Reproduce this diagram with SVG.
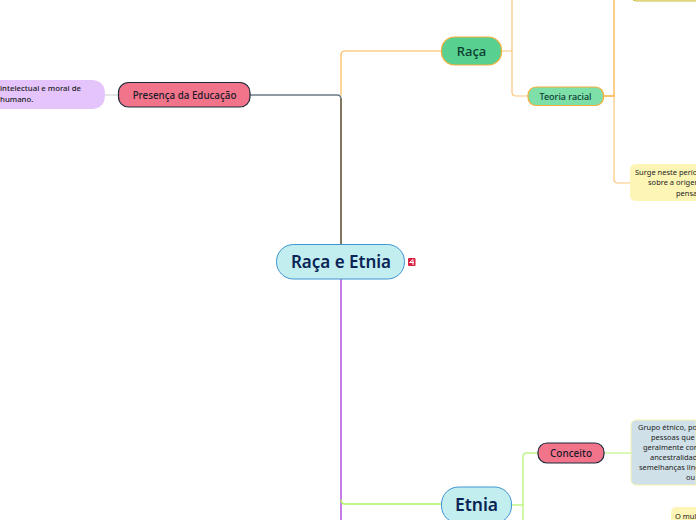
<svg xmlns="http://www.w3.org/2000/svg" width="696" height="520" viewBox="0 0 696 520">
<style>
text{font-family:"Noto Sans","Open Sans",sans-serif;text-anchor:middle}
.c{fill:none;stroke-linecap:round}
.t8{font-size:7.500px;fill:#222}
.s{text-anchor:start}
</style>
<rect width="696" height="520" fill="#fff"/>
<g id="connectors">
<path class="c" d="M105 95H118" stroke="#c9d0d0" stroke-width="1.200"/>
<path class="c" d="M441 51H345Q341 51 341 55V95" stroke="#fbb84f" stroke-width="1.200"/>
<path class="c" d="M250 95H337Q341 95 341 99V244" stroke="#6b7a85" stroke-width="1.500"/>
<path class="c" d="M341 99V244" stroke="#7d6a4a" stroke-width="1.500"/>
<path class="c" d="M341 279V520" stroke="#b04fdc" stroke-width="1.500"/>
<path class="c" d="M341 500Q341 504 345 504H441" stroke="#aef562" stroke-width="1.500"/>
<path class="c" d="M502 51H512" stroke="#fcc77a" stroke-width="1.200"/>
<path class="c" d="M512 0V92Q512 96 516 96H528" stroke="#fcc77a" stroke-width="1.200"/>
<path class="c" d="M604 96H614" stroke="#f9ae3c" stroke-width="1.500"/>
<path class="c" d="M614 0V96" stroke="#f9ae3c" stroke-width="1.200"/>
<path class="c" d="M614 96V179Q614 183 618 183H630" stroke="#fcc77a" stroke-width="1.200"/>
<path class="c" d="M511 505H523" stroke="#bdf686" stroke-width="1.500"/>
<path class="c" d="M523 520V457Q523 453 527 453H538" stroke="#bdf686" stroke-width="1.500"/>
<path class="c" d="M604 453H631" stroke="#cdf9a0" stroke-width="1.500"/>
</g>
<g id="node-centro">
<rect x="276.500" y="244.500" width="128" height="34.500" rx="17" fill="#c2eef0" stroke="#3f95d2" stroke-width="1"/>
<text x="341" y="268" font-size="17" font-weight="600" fill="#0a2455">Raça e Etnia</text>
</g>
<g id="icon">
<rect x="408" y="258" width="7.500" height="8" rx="1" fill="#d9203f"/>
<path d="M409.500 262.500L413 259.500V265M409.500 262.500H414" fill="none" stroke="#fff" stroke-width="1"/>
</g>
<g id="node-presenca">
<rect x="118.500" y="82.500" width="131.500" height="24.500" rx="10" fill="#f2748a" stroke="#1e2a3c" stroke-width="1.200"/>
<text x="184.500" y="99" font-size="9.800" font-weight="500" fill="#1a1a2a">Presença da Educação</text>
</g>
<g id="node-intelectual">
<path d="M0 80H91Q105 80 105 94.500Q105 109 91 109H0Z" fill="#e5c4fc"/>
<text x="0" y="91" class="s" font-size="7.800" font-weight="500" fill="#222">intelectual e moral de</text>
<text x="0" y="102" class="s" font-size="7.800" font-weight="500" fill="#222">humano.</text>
</g>
<g id="node-raca">
<rect x="441.500" y="37" width="60" height="28" rx="13" fill="#58d08f" stroke="#f9ae3c" stroke-width="1.200"/>
<text x="471.500" y="56" font-size="13" font-weight="500" fill="#0b3d33">Raça</text>
</g>
<g id="node-teoria">
<rect x="528" y="87" width="75.500" height="18.500" rx="8" fill="#7edfa9" stroke="#f9ae3c" stroke-width="1.200"/>
<text x="565.500" y="99.500" font-size="9" font-weight="500" fill="#0b3d33">Teoria racial</text>
</g>
<g id="node-topo">
<rect x="632" y="-20" width="80" height="21" rx="4" fill="#fbf3b0" stroke="#c9bb45" stroke-width="1"/>
</g>
<g id="node-surge">
<path d="M696 164H636Q630 164 630 170V195Q630 201 636 201H696Z" fill="#fdf5b5"/>
<text x="635" y="175" class="t8 s">Surge neste perío</text>
<text x="648" y="185" class="t8 s">sobre a origem</text>
<text x="676" y="196" class="t8 s">pensa</text>
</g>
<g id="node-etnia">
<rect x="441.500" y="487" width="70" height="36" rx="17" fill="#c2eef0" stroke="#3f95d2" stroke-width="1"/>
<text x="476.500" y="511" font-size="17.500" font-weight="600" fill="#0a2455">Etnia</text>
</g>
<g id="node-conceito">
<rect x="538" y="443" width="66" height="20" rx="9" fill="#f2748a" stroke="#1e2a3c" stroke-width="1.200"/>
<text x="571" y="457" font-size="10" font-weight="500" fill="#1a1a2a">Conceito</text>
</g>
<g id="node-grupo">
<path d="M696 420H637Q631 420 631 426V479Q631 485 637 485H696Z" fill="#cfe0e8" stroke="#f6f3b0" stroke-width="1"/>
<text x="638" y="430" class="t8 s">Grupo étnico, po</text>
<text x="651" y="440" class="t8 s">pessoas que s</text>
<text x="643" y="450" class="t8 s">geralmente con</text>
<text x="650" y="460" class="t8 s">ancestralidad</text>
<text x="639" y="470" class="t8 s">semelhanças ling</text>
<text x="686" y="480" class="t8 s">ou</text>
</g>
<g id="node-muli">
<path d="M696 507H677Q671 507 671 513V520H696Z" fill="#fdf5b5"/>
<text x="675" y="519" class="t8 s">O mul</text>
</g>
</svg>
